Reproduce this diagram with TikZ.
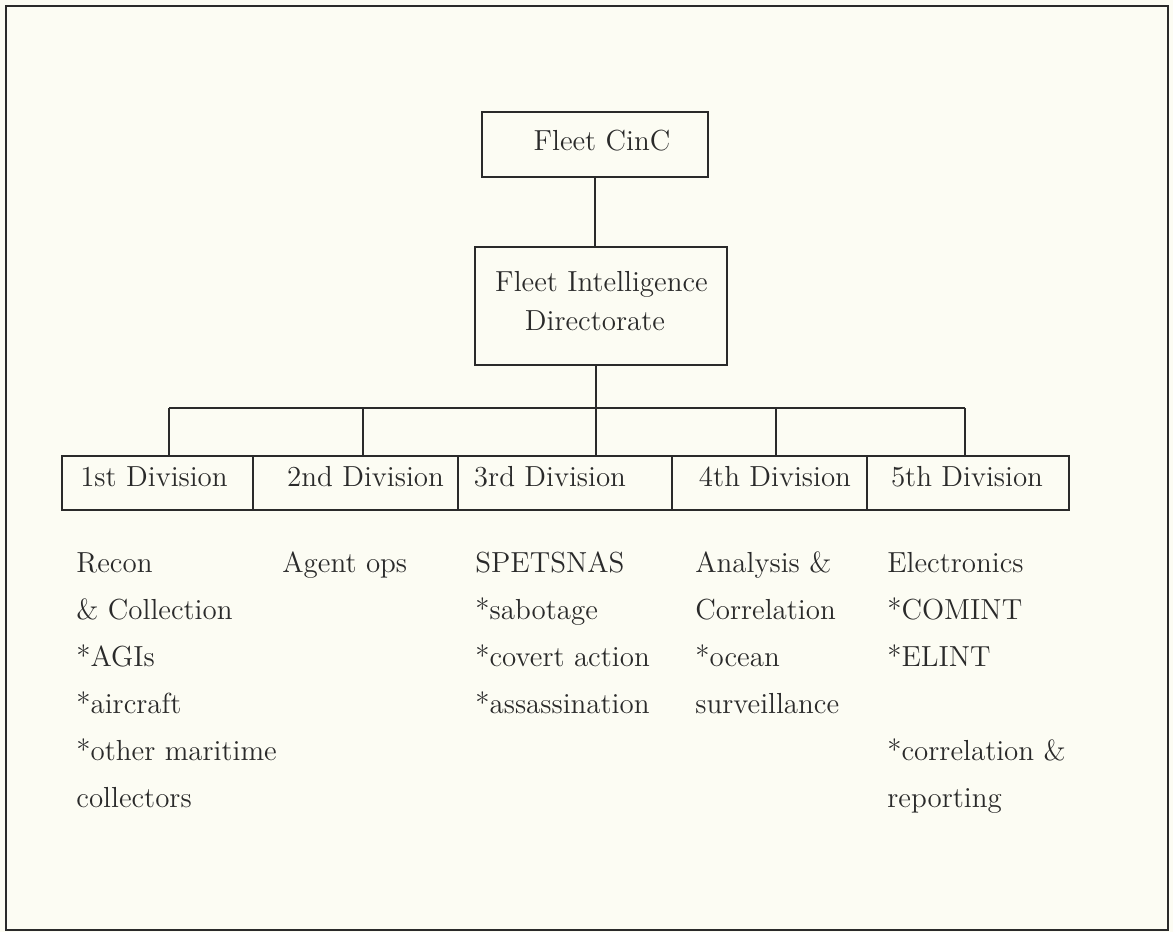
\documentclass[tikz,border=0pt]{standalone}
\usepackage{fontspec}
\definecolor{paper}{HTML}{FCFCF3}
\definecolor{ink}{HTML}{2A2A2A}
\begin{document}
\begin{tikzpicture}[x=0.5pt,y=-0.5pt,
  box/.style={draw=ink, line width=1.1pt, inner sep=0pt, rectangle},
  conn/.style={draw=ink, line width=1.1pt},
  txt/.style={text=ink, inner sep=0pt, font=\fontsize{14.5}{17}\selectfont},
  col/.style={text=ink, inner sep=0pt, anchor=north west, align=left,
              font=\fontsize{14.5}{23.5}\selectfont}]
\fill[paper] (0,0) rectangle (1173,932);
\useasboundingbox (0,0) rectangle (1173,932);
\draw[ink, line width=1.3pt] (6,6) rectangle (1168,930);

% top boxes
\node[box, minimum width=113pt, minimum height=32.5pt] (cinc) at (595,144.5) {};
\node[txt, anchor=base] (cinct) at (602,150) {Fleet CinC};
\node[box, minimum width=126pt, minimum height=59pt] (fid) at (601,306) {};
\node[txt, anchor=base] (fidt1) at (601.5,291) {Fleet Intelligence};
\node[txt, anchor=base] (fidt2) at (595,330) {Directorate};

% division boxes
\node[box, minimum width=95.5pt, minimum height=27pt] (d1) at (157.5,483) {};
\node[box, minimum width=102.5pt, minimum height=27pt] (d2) at (355.5,483) {};
\node[box, minimum width=107pt, minimum height=27pt] (d3) at (565,483) {};
\node[box, minimum width=97.5pt, minimum height=27pt] (d4) at (769.5,483) {};
\node[box, minimum width=101pt, minimum height=27pt] (d5) at (968,483) {};
\node[txt, anchor=base] (d1t) at (154,486) {1st Division};
\node[txt, anchor=base] (d2t) at (365.5,486) {2nd Division};
\node[txt, anchor=base] (d3t) at (550,486) {3rd Division};
\node[txt, anchor=base] (d4t) at (775,486) {4th Division};
\node[txt, anchor=base] (d5t) at (967,486) {5th Division};

% connectors
\coordinate (j1) at (169,408);
\coordinate (j2) at (363,408);
\coordinate (j3) at (596,408);
\coordinate (j4) at (776,408);
\coordinate (j5) at (965,408);
\draw[conn] (cinc.south) -- (cinc.south |- fid.north);
\draw[conn] (fid.south -| j3) -- (j3 |- d3.north);
\draw[conn] (j1) -- (j5);
\draw[conn] (j1) -- (j1 |- d1.north);
\draw[conn] (j2) -- (j2 |- d2.north);
\draw[conn] (j4) -- (j4 |- d4.north);
\draw[conn] (j5) -- (j5 |- d5.north);

% descriptions
\node[col] (c1) at (76,539) {\strut Recon\\\strut\& Collection\\\strut *AGIs\\\strut *aircraft\\\strut *other maritime\\\strut collectors};
\node[col] (c2) at (282,539) {\strut Agent ops};
\node[col] (c3) at (475,539) {\strut SPETSNAS\\\strut *sabotage\\\strut *covert action\\\strut *assassination};
\node[col] (c4) at (695,539) {\strut Analysis \&\\\strut Correlation\\\strut *ocean\\\strut surveillance};
\node[col] (c5) at (887,539) {\strut Electronics\\\strut *COMINT\\\strut *ELINT\\\strut\\\strut *correlation \&\\\strut reporting};
\end{tikzpicture}
\end{document}
